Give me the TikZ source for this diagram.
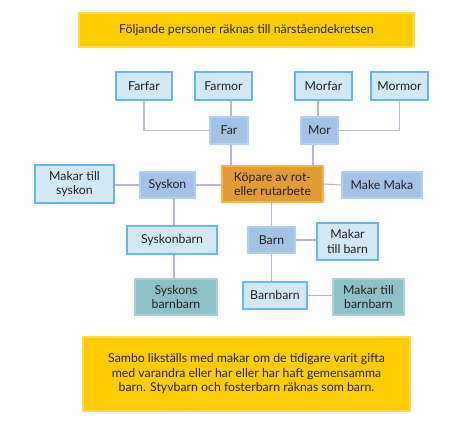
\documentclass[tikz,border=0pt]{standalone}
\usepackage{fontspec}
\setmainfont{Lato}
\definecolor{lightfill}{HTML}{D3E8F5}
\definecolor{lightdraw}{HTML}{6AB7E2}
\definecolor{darkfill}{HTML}{A2C3E5}
\definecolor{darkdraw}{HTML}{B5D0EC}
\definecolor{orfill}{HTML}{E29B33}
\definecolor{ordraw}{HTML}{F1B552}
\definecolor{tealfill}{HTML}{8DC1C8}
\definecolor{tealdraw}{HTML}{A9D1D6}
\definecolor{yel}{HTML}{FFCC00}
\definecolor{linec}{HTML}{BFB3CD}
\definecolor{txt}{HTML}{222222}
\begin{document}
\begin{tikzpicture}[x=1pt,y=-1pt,
  box/.style={inner sep=0pt, align=center, text=txt, font=\fontsize{12.3}{14.5}\selectfont, line width=1.1pt},
  lightbox/.style={box, fill=lightfill, draw=lightdraw},
  darkbox/.style={box, fill=darkfill, draw=darkdraw},
  orbox/.style={box, fill=orfill, draw=ordraw},
  tealbox/.style={box, fill=tealfill, draw=tealdraw},
  yelbox/.style={box, fill=yel, draw=yel!70!white},
  conn/.style={draw=linec, line width=1.1pt}]
\useasboundingbox (0,0) rectangle (475,433);
\fill[white] (0,0) rectangle (475,433);

\node[yelbox, minimum width=335pt, minimum height=34pt] (top) at (246.5,30) {Följande personer räknas till närståendekretsen};

\node[lightbox, minimum width=56pt, minimum height=28pt] (farfar) at (144,86) {Farfar};
\node[lightbox, minimum width=57pt, minimum height=28pt] (farmor) at (223.5,86) {Farmor};
\node[lightbox, minimum width=57pt, minimum height=28pt] (morfar) at (323.5,86) {Morfar};
\node[lightbox, minimum width=57pt, minimum height=28pt] (mormor) at (399.5,86) {Mormor};

\node[darkbox, minimum width=38pt, minimum height=27pt] (far) at (229,130.5) {Far};
\node[darkbox, minimum width=37pt, minimum height=27pt] (mor) at (319.5,130.5) {Mor};

\node[orbox, minimum width=101pt, minimum height=36pt] (kop) at (272.5,184) {Köpare av rot-\\eller rutarbete};
\node[darkbox, minimum width=80pt, minimum height=26pt] (make) at (382,185) {Make Maka};
\node[darkbox, minimum width=55pt, minimum height=26pt] (syskon) at (167.5,185) {Syskon};
\node[lightbox, minimum width=79pt, minimum height=38pt] (msyskon) at (74.5,184) {Makar till\\syskon};

\node[lightbox, minimum width=90pt, minimum height=28pt] (sbarn) at (172,240) {Syskonbarn};
\node[tealbox, minimum width=82pt, minimum height=36pt] (sbb) at (176,297) {Syskons\\barnbarn};

\node[darkbox, minimum width=47pt, minimum height=26pt] (barn) at (271.5,240) {Barn};
\node[lightbox, minimum width=61pt, minimum height=37pt] (mbarn) at (347.5,241.5) {Makar\\till barn};
\node[lightbox, minimum width=64pt, minimum height=27pt] (bb) at (275,295.5) {Barnbarn};
\node[tealbox, minimum width=71pt, minimum height=36pt] (mbb) at (368.5,297) {Makar till\\barnbarn};

\node[yelbox, minimum width=327pt, minimum height=74pt] (bottom) at (246.5,374) {Sambo likställs med makar om de tidigare varit gifta\\med varandra eller har eller har haft gemensamma\\barn. Styvbarn och fosterbarn räknas som barn.};

\draw[conn] (farfar.south) |- (far.west);
\draw[conn] ([xshift=2pt]far.north) -- ([xshift=2pt]far.north |- farmor.south);
\draw[conn] ([xshift=-1.5pt]mor.north) -- ([xshift=-1.5pt]mor.north |- morfar.south);
\draw[conn] (mormor.south) |- (mor.east);
\draw[conn] ([xshift=2pt]far.south) -- ([xshift=2pt]far.south |- kop.north);
\draw[conn] ([xshift=-6.5pt]mor.south) -- ([xshift=-6.5pt]mor.south |- kop.north);
\draw[conn] ([yshift=-1pt]msyskon.east) -- ([yshift=-1pt]msyskon.east -| syskon.west);
\draw[conn] (syskon.east) -- (syskon.east -| kop.west);
\draw[conn] (kop.east) -- (make.west);
\draw[conn] ([xshift=2pt]sbarn.north) -- ([xshift=2pt]sbarn.north |- syskon.south);
\draw[conn] ([xshift=2pt]sbarn.south) -- ([xshift=2pt]sbarn.south |- sbb.north);
\draw[conn] ([xshift=-1pt]kop.south) -- ([xshift=-1pt]kop.south |- barn.north);
\draw[conn] (barn.east) -- (barn.east -| mbarn.west);
\draw[conn] (barn.south) -- (barn.south |- bb.north);
\draw[conn] (bb.east) -- (bb.east -| mbb.west);
\end{tikzpicture}
\end{document}
